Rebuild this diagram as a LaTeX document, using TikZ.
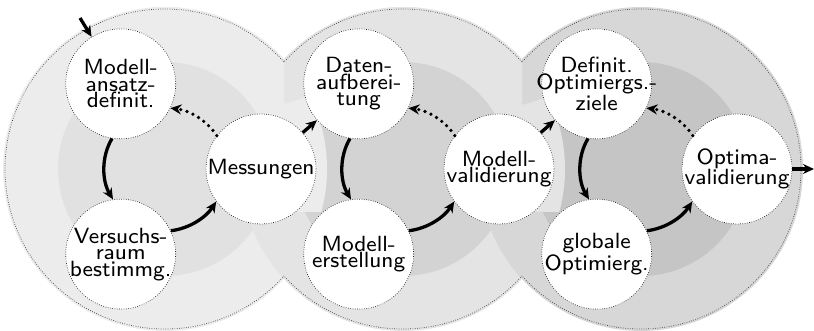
\documentclass[tikz,border=0pt]{standalone}
\usetikzlibrary{arrows.meta}
% Latin Modern Sans, 8pt design, set large
\font\stepfnt="[lmsans8-regular.otf]" at 22pt
\definecolor{ringA}{RGB}{236,236,236}
\definecolor{innerA}{RGB}{225,225,225}
\definecolor{ringB}{RGB}{228,228,228}
\definecolor{innerB}{RGB}{211,211,211}
\definecolor{ringC}{RGB}{215,215,215}
\definecolor{innerC}{RGB}{197,197,197}
\newcommand{\phasedisc}[3]{%
  \fill[#2] (#1) circle (162);
  \fill[#3] (#1) circle (107);}
\tikzset{
  hull/.style={draw=black!75, line width=0.7pt, dash pattern=on 0.7pt off 1.6pt},
  stepnode/.style={circle, fill=white, draw=black!85, line width=0.7pt,
    dash pattern=on 0.7pt off 1.6pt, minimum size=110pt, inner sep=-12pt,
    align=center, font={\stepfnt\baselineskip=16.5pt}},
  flow/.style={line width=3.3pt, -{Stealth[length=11pt,width=10pt]}},
  back/.style={line width=3.6pt, line cap=round, dash pattern=on 0pt off 6.5pt,
    -{Stealth[length=11pt,width=10pt]}},
}
\begin{document}
\begin{tikzpicture}[x=1pt,y=1pt]
\useasboundingbox (0,0) rectangle (814,331);
\coordinate (o1) at (165,162);
\coordinate (o2) at (403,162);
\coordinate (o3) at (641,162);

% phase discs
\phasedisc{o1}{ringA}{innerA}
\phasedisc{o2}{ringB}{innerB}
\phasedisc{o3}{ringC}{innerC}
% each phase reaches into the next one above the hand-over
\begin{scope}
  \clip (388,331) -- (522,331) -- (522,226) -- (660,267) -- (660,119) -- (388,119) -- cycle;
  \phasedisc{o2}{ringB}{innerB}
\end{scope}
\begin{scope}
  \clip (150,331) -- (284,331) -- (284,227) -- (420,268) -- (420,119) -- (150,119) -- cycle;
  \phasedisc{o1}{ringA}{innerA}
\end{scope}

% dotted outline of the union
\begin{scope}[even odd rule]
  \clip (0,0) rectangle (814,331) (o2) circle (160);
  \draw[hull] (o1) circle (160);
  \draw[hull] (o3) circle (160);
\end{scope}
\begin{scope}[even odd rule]
  \clip (0,0) rectangle (814,331) (o1) circle (160) (o3) circle (160);
  \draw[hull] (o2) circle (160);
\end{scope}

% process steps
\node[stepnode] (a1) at ([shift={(117.5:96)}]o1) {Modell-\\ansatz-\\definit.};
\node[stepnode] (b1) at ([shift={(242.5:96)}]o1) {Versuchs-\\raum\\bestimmg.};
\node[stepnode] (m1) at ([shift={(0:96)}]o1) {Messungen};
\node[stepnode] (a2) at ([shift={(117.5:96)}]o2) {Daten-\\aufberei-\\tung};
\node[stepnode] (b2) at ([shift={(242.5:96)}]o2) {Modell-\\erstellung};
\node[stepnode] (m2) at ([shift={(0:96)}]o2) {Modell-\\validierung};
\node[stepnode] (a3) at ([shift={(117.5:96)}]o3) {Definit.\\Optimiergs.-\\ziele};
\node[stepnode] (b3) at ([shift={(242.5:96)}]o3) {globale\\Optimierg.};
\node[stepnode] (m3) at ([shift={(0:96)}]o3) {Optima-\\validierung};

% loops inside each phase
\foreach \i in {1,2,3} {
  \draw[flow] (a\i.261.5) to[out=239, in=121, looseness=0.9] (b\i.98.5);
  \draw[flow] (b\i.25.5) to[out=7, in=237, looseness=0.9] (m\i.216.5);
  \draw[back] (m\i.143.5) to[out=123, in=353, looseness=0.9] (a\i.334.5);
}

% hand-over between phases
\coordinate (start) at (80,313);
\coordinate (finish) at (814,162);
\draw[flow] (start) -- (a1);
\draw[flow] (m1) -- (a2);
\draw[flow] (m2) -- (a3);
\draw[flow] (m3) -- (finish);
\end{tikzpicture}
\end{document}
